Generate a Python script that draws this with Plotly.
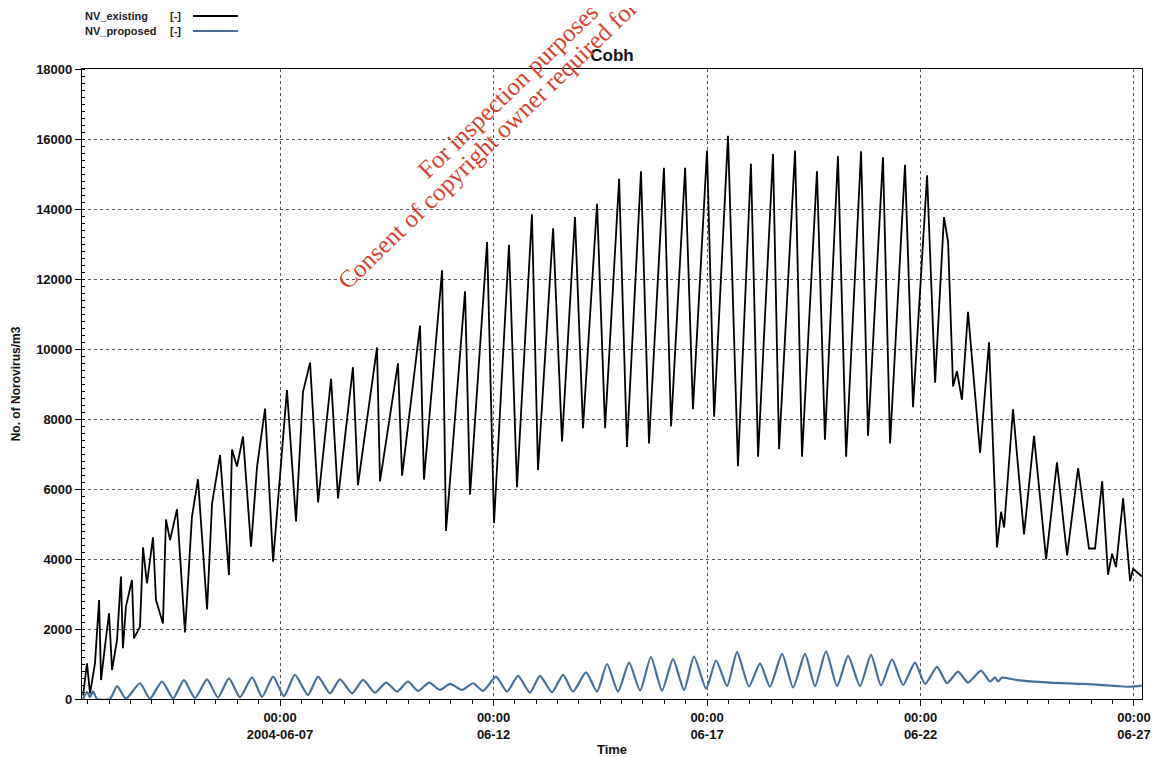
import pandas as pd
import plotly.graph_objects as go

# ---------------- data (hours after 2004-06-02 00:00, values in No./m3) ----------------
existing_hours = [9.3, 11.5, 13.2, 16.0, 18.3, 19.4, 21.6, 23.9, 25.6, 28.4, 30.6, 31.7, 33.4, 36.8,
                  37.9, 41.3, 43.0, 45.2, 48.6, 50.3, 54.2, 55.9, 58.2, 62.1, 66.6, 70.5, 73.9, 79.0,
                  81.8, 86.3, 91.3, 93.0, 95.8, 99.2, 103.7, 107.1, 111.6, 116.1, 123.9, 129.0, 132.9,
                  136.9, 141.4, 148.7, 152.6, 161.0, 163.8, 174.5, 176.2, 186.3, 188.6, 198.7, 200.9,
                  211.1, 213.3, 224.0, 226.8, 236.4, 240.3, 248.7, 253.2, 261.6, 265.0, 273.5, 278.5,
                  285.8, 290.3, 298.2, 302.7, 310.6, 315.0, 322.9, 327.4, 335.8, 339.8, 347.7, 352.1,
                  360.0, 364.0, 371.8, 377.4, 384.7, 388.7, 397.1, 400.5, 409.5, 413.4, 421.8, 426.3,
                  433.6, 438.2, 446.6, 450.5, 458.9, 462.9, 471.3, 475.8, 483.7, 488.2, 493.2, 495.5,
                  498.3, 500.5, 503.3, 506.7, 513.5, 518.5, 523.0, 525.3, 527.0, 532.0, 538.2, 543.8,
                  550.6, 556.7, 562.4, 568.6, 574.7, 578.1, 582.1, 585.4, 587.7, 589.9, 593.9, 597.8,
                  599.5, 604.5]
existing_values = [100, 1020, 160, 1020, 2830, 540, 1500, 2450, 830, 1690, 3500, 1450, 2640, 3400,
                   1730, 2070, 4330, 3300, 4620, 2830, 2160, 5130, 4540, 5420, 1900, 5210, 6280, 2560,
                   5590, 6970, 3540, 7130, 6640, 7500, 4350, 6640, 8300, 3920, 8830, 5075, 8770,
                   9610, 5620, 9150, 5730, 9480, 6110, 10040, 6220, 9590, 6380, 10670, 6270,
                   12250, 4800, 11650, 5840, 13060, 5020, 12980, 6050, 13850, 6540, 13450, 7360,
                   13770, 7740, 14150, 7740, 14860, 7200, 15080, 7300, 15180, 7790, 15180, 8280,
                   15670, 8065, 16090, 6650, 15290, 6920, 15570, 7140, 15670, 6920, 15080, 7410,
                   15510, 6920, 15650, 7520, 15480, 7300, 15260, 8340, 14960, 9040, 13770, 13060,
                   8930, 9370, 8550, 11060, 7030, 10190, 4330, 5350, 4900, 8280, 4700, 7520,
                   3990, 6760, 4100, 6600, 4300, 4300, 6220, 3550, 4150, 3770, 5730, 3370,
                   3720, 3500]

proposed_hours = [9.3, 11.5, 13.2, 14.9, 17.2, 24.4, 28.4, 33.4, 41.3, 46.9, 53.7, 59.9, 66.0, 72.2,
                  79.0, 85.1, 91.3, 97.5, 104.3, 109.9, 116.1, 122.2, 128.4, 135.7, 141.4, 148.1,
                  153.7, 160.5, 166.7, 173.4, 179.6, 185.8, 191.9, 197.6, 203.8, 209.9, 215.6, 222.3,
                  228.5, 234.1, 241.4, 247.6, 253.8, 260.5, 266.1, 272.9, 279.1, 284.7, 292.0, 298.2,
                  303.8, 310.0, 316.2, 322.4, 328.5, 334.7, 340.9, 347.1, 352.7, 359.5, 365.1, 371.3,
                  376.9, 383.6, 389.8, 395.4, 402.2, 408.4, 415.1, 420.7, 426.9, 433.1, 439.3, 446.0,
                  452.2, 457.8, 464.0, 470.2, 476.9, 482.6, 489.3, 494.9, 501.1, 506.7, 514.0, 519.1,
                  521.9, 523.6, 525.8, 534.3, 552.8, 571.4, 590.5, 597.8, 604.5]
proposed_values = [0, 200, 50, 220, 0, 0, 370, 10, 450, 10, 500, 20, 540, 30,
                   560, 40, 590, 50, 620, 60, 640, 80, 690, 115, 640, 160,
                   565, 160, 545, 180, 470, 210, 500, 230, 470, 260, 430, 260,
                   450, 230, 640, 210, 660, 180, 660, 190, 690, 210, 760, 210,
                   1000, 210, 1040, 240, 1200, 240, 1140, 260, 1215, 300, 1100, 370,
                   1340, 360, 1020, 350, 1290, 330, 1290, 370, 1360, 370, 1230, 370,
                   1260, 390, 1130, 400, 1040, 430, 920, 450, 780, 470, 810, 500,
                   620, 500, 610, 540, 470, 430, 370, 350, 380]

tick_dates = ["2004-06-07", "2004-06-12", "2004-06-17", "2004-06-22", "2004-06-27"]
tick_labels = ["00:00<br>2004-06-07", "00:00<br>06-12", "00:00<br>06-17", "00:00<br>06-22", "00:00<br>06-27"]

series_names = ["NV_existing", "NV_proposed"]
title_text = "Cobh"

# ---------------- build ----------------
base = pd.Timestamp("2004-06-02")
t_existing = base + pd.to_timedelta(existing_hours, unit="h")
t_proposed = base + pd.to_timedelta(proposed_hours, unit="h")

FONT = "Liberation Sans, Arial, sans-serif"
BLACK = "#000000"
BLUE = "#46709a"

fig = go.Figure()
fig.add_trace(go.Scatter(x=t_existing, y=existing_values, mode="lines", name=series_names[0],
                         line=dict(color=BLACK, width=1.8), showlegend=False))
fig.add_trace(go.Scatter(x=t_proposed, y=proposed_values, mode="lines", name=series_names[1],
                         line=dict(color=BLUE, width=2.2, shape="spline", smoothing=0.6), showlegend=False))

# the page body adds an 8 px offset; the figure is sized so that it still fits the window
OFF = 8
W, H = 1161 - OFF, 757 - OFF
# plot area in page pixels: x 82..1142, y 69..699
PL, PR, PT, PB = 82, 1142, 69, 699
L, R, T, B = PL - OFF, W - (PR - OFF), PT - OFF, H - (PB - OFF)
pw, ph = PR - PL, PB - PT


def px2paper(x, y):
    """page pixel -> paper coordinates"""
    return (x - PL) / pw, (PB - y) / ph


# custom legend: text then line sample
annotations = []
shapes = []
for i, (name, col) in enumerate(zip(series_names, [BLACK, BLUE])):
    ypx = 16 + i * 15
    xa, ya = px2paper(83, ypx)
    annotations.append(dict(x=xa, y=ya, xref="paper", yref="paper", text=name, showarrow=False,
                            xanchor="left", yanchor="middle",
                            font=dict(family=FONT, size=11, color="#222", weight="bold")))
    xb, _ = px2paper(183, ypx)
    annotations.append(dict(x=xb, y=ya, xref="paper", yref="paper", text="[-]", showarrow=False,
                            xanchor="right", yanchor="middle",
                            font=dict(family=FONT, size=11, color="#222", weight="bold")))
    x0, _ = px2paper(193, ypx)
    x1, _ = px2paper(238, ypx)
    shapes.append(dict(type="line", xref="paper", yref="paper", x0=x0, x1=x1, y0=ya, y1=ya,
                       line=dict(color=col, width=2)))

# watermark (partly outside the page, as in the original)
wm_color = "#d2432c"
for txt, cx, cy in [("For inspection purposes only.", 528, 72),
                    ("Consent of copyright owner required for any other use.", 540, 94)]:
    xa, ya = px2paper(cx, cy)
    annotations.append(dict(x=xa, y=ya, xref="paper", yref="paper", text=txt, showarrow=False,
                            textangle=-44, xanchor="center", yanchor="middle",
                            font=dict(family="Liberation Serif, Times New Roman, serif", size=25,
                                      color=wm_color)))

fig.update_layout(
    width=W, height=H,
    margin=dict(l=L, r=R, t=T, b=B, autoexpand=False),
    paper_bgcolor="white", plot_bgcolor="white",
    title=dict(text=title_text, x=(L + pw / 2) / W, xanchor="center", y=1 - (55 - OFF) / H,
               yanchor="middle", yref="container",
               font=dict(family=FONT, size=17, color="#111", weight="bold")),
    annotations=annotations, shapes=shapes,
    showlegend=False,
)

fig.update_xaxes(
    type="date", automargin=False,
    range=[base + pd.Timedelta(hours=8.7), base + pd.Timedelta(hours=604.5)],
    tickmode="array", tickvals=tick_dates, ticktext=tick_labels,
    ticks="outside", ticklen=6, tickcolor=BLACK,
    tickfont=dict(family=FONT, size=13, color="#111", weight="bold"),
    showline=True, linecolor=BLACK, linewidth=1.2, mirror=True,
    showgrid=True, gridcolor="#555", griddash="dot", gridwidth=1,
    zeroline=False,
    minor=dict(tick0="2004-06-02", dtick=12 * 3600 * 1000, ticks="outside", ticklen=4,
               tickcolor=BLACK, showgrid=False),
    title=dict(text="Time", font=dict(family=FONT, size=13, color="#111", weight="bold"), standoff=4),
)
fig.update_yaxes(
    automargin=False,
    range=[0, 18000], tick0=0, dtick=2000, tickformat="d",
    ticks="outside", ticklen=6, tickcolor=BLACK,
    tickfont=dict(family=FONT, size=13, color="#111", weight="bold"),
    showline=True, linecolor=BLACK, linewidth=1.2, mirror=True,
    showgrid=True, gridcolor="#555", griddash="dot", gridwidth=1,
    zeroline=False,
    minor=dict(dtick=200, ticks="inside", ticklen=3, tickcolor=BLACK, showgrid=False),
    title=dict(text="No. of Norovirus/m3", font=dict(family=FONT, size=12, color="#111", weight="bold"),
               standoff=12),
)

fig.write_html("out.html")
